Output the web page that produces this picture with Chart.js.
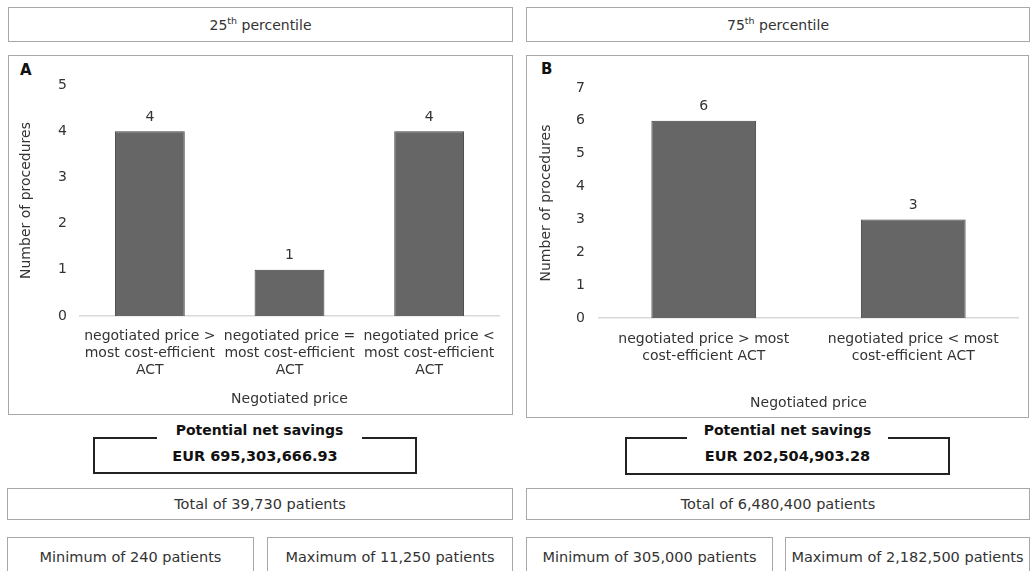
<!DOCTYPE html>
<html>
<head>
<meta charset="utf-8">
<script src="https://cdn.jsdelivr.net/npm/chart.js@4"></script>
<style>
  html, body { margin:0; padding:0; background:#fff; }
  body { width:1030px; height:571px; position:relative; overflow:hidden; font-family:"DejaVu Sans", Verdana, sans-serif; color:#333; font-size:14.5px; }
  .box { position:absolute; box-sizing:border-box; border:1.5px solid #a8a8a8; background:#fff; display:flex; align-items:center; justify-content:center; }
  .panel { position:absolute; box-sizing:border-box; border:1.5px solid #a8a8a8; background:#fff; }
  .letter { position:absolute; font-weight:bold; font-size:15px; color:#111; }
  canvas { position:absolute; }
  .sav { position:absolute; box-sizing:border-box; border:2px solid #222; background:#fff; }
  .savt { position:absolute; font-weight:bold; font-size:14px; color:#111; background:#fff; text-align:center; line-height:18px; }
  .sav .amt { position:absolute; left:0; right:0; text-align:center; font-weight:bold; font-size:14.5px; color:#111; }
  .top { font-size:14px; }
  sup { font-size:9.5px; vertical-align:top; position:relative; top:-2px; }
</style>
</head>
<body>
<div class="box top" style="left:8px;top:7px;width:505px;height:35px;"><span>25<sup>th</sup> percentile</span></div>
<div class="box top" style="left:526px;top:7px;width:504px;height:35px;"><span>75<sup>th</sup> percentile</span></div>

<div class="panel" style="left:8px;top:55px;width:505px;height:360px;"></div>
<div class="panel" style="left:526px;top:55px;width:503px;height:363px;"></div>
<div class="letter" style="left:20px;top:61px;">A</div>
<div class="letter" style="left:541px;top:60px;">B</div>
<canvas id="chartA" width="503" height="358" style="left:9px;top:56px;"></canvas>
<canvas id="chartB" width="501" height="361" style="left:527px;top:56px;"></canvas>

<div class="sav" style="left:93px;top:437px;width:324px;height:37px;"><div class="amt" style="top:9px;">EUR 695,303,666.93</div></div>
<div class="savt" style="left:157px;top:421px;width:205px;">Potential net savings</div>
<div class="sav" style="left:625px;top:437px;width:325px;height:38px;"><div class="amt" style="top:9px;">EUR 202,504,903.28</div></div>
<div class="savt" style="left:687px;top:421px;width:201px;">Potential net savings</div>

<div class="box" style="left:7px;top:488px;width:506px;height:32px;">Total of 39,730 patients</div>
<div class="box" style="left:526px;top:488px;width:504px;height:32px;">Total of 6,480,400 patients</div>
<div class="box" style="left:7px;top:537px;width:247px;height:42px;align-items:flex-start;padding-top:11px;">Minimum of 240 patients</div>
<div class="box" style="left:267px;top:537px;width:246px;height:42px;align-items:flex-start;padding-top:11px;">Maximum of 11,250 patients</div>
<div class="box" style="left:526px;top:537px;width:247px;height:42px;align-items:flex-start;padding-top:11px;">Minimum of 305,000 patients</div>
<div class="box" style="left:785px;top:537px;width:245px;height:42px;align-items:flex-start;padding-top:11px;">Maximum of 2,182,500 patients</div>

<script>
// ---- Data ----
const categoriesA = [
  ["negotiated price >", "most cost-efficient", "ACT"],
  ["negotiated price =", "most cost-efficient", "ACT"],
  ["negotiated price <", "most cost-efficient", "ACT"]
];
const valuesA = [4, 1, 4];
const categoriesB = [
  ["negotiated price > most", "cost-efficient ACT"],
  ["negotiated price < most", "cost-efficient ACT"]
];
const valuesB = [6, 3];
const yMaxA = 5;
const yMaxB = 7;
const yTitle = "Number of procedures";
const xTitle = "Negotiated price";

const FONT = "'DejaVu Sans', Verdana, sans-serif";
const TXT = "#333333";

const valueLabels = {
  id: 'valueLabels',
  afterDatasetsDraw(chart) {
    const ctx = chart.ctx;
    ctx.save();
    ctx.font = "14px " + FONT;
    ctx.fillStyle = TXT;
    ctx.textAlign = 'center';
    ctx.textBaseline = 'middle';
    chart.data.datasets.forEach((ds, di) => {
      chart.getDatasetMeta(di).data.forEach((bar, i) => {
        ctx.fillText(String(ds.data[i]), bar.x, bar.y - 14);
      });
    });
    ctx.restore();
  }
};

function makeChart(id, labels, values, yMax, pad, yWidth, xHeight, tickPad, titlePadTop, xTickPad) {
  return new Chart(document.getElementById(id), {
    type: 'bar',
    data: {
      labels: labels,
      datasets: [{
        data: values,
        backgroundColor: '#666666',
        borderColor: '#3f3f3f',
        borderWidth: 1,
        categoryPercentage: 1.0,
        barPercentage: 0.5
      }]
    },
    options: {
      responsive: false,
      animation: false,
      devicePixelRatio: 1,
      layout: { padding: pad },
      plugins: { legend: { display: false }, tooltip: { enabled: false } },
      scales: {
        x: {
          grid: { display: false, drawTicks: false },
          border: { display: true, color: '#d9d9d9', width: 1.5 },
          ticks: { color: TXT, font: { family: FONT, size: 14, lineHeight: 17 / 14 }, padding: xTickPad, maxRotation: 0, autoSkip: false },
          title: { display: true, text: xTitle, color: TXT, font: { family: FONT, size: 14 }, padding: { top: 0, bottom: 0 } },
          afterFit: (s) => { s.height = xHeight; }
        },
        y: {
          min: 0, max: yMax,
          grid: { display: false, drawTicks: false },
          border: { display: false },
          ticks: { stepSize: 1, color: TXT, font: { family: FONT, size: 14 }, padding: tickPad },
          title: { display: true, text: yTitle, color: TXT, font: { family: FONT, size: 14 }, padding: { top: titlePadTop, bottom: 0 } },
          afterFit: (s) => { s.width = yWidth; }
        }
      }
    },
    plugins: [valueLabels]
  });
}

makeChart('chartA', categoriesA, valuesA, yMaxA, { left: 0, right: 13, top: 29, bottom: 6 }, 71, 92, 13, 9, 12);
makeChart('chartB', categoriesB, valuesB, yMaxB, { left: 0, right: 10, top: 32, bottom: 5 }, 72, 94, 14, 11, 13);
</script>
</body>
</html>
